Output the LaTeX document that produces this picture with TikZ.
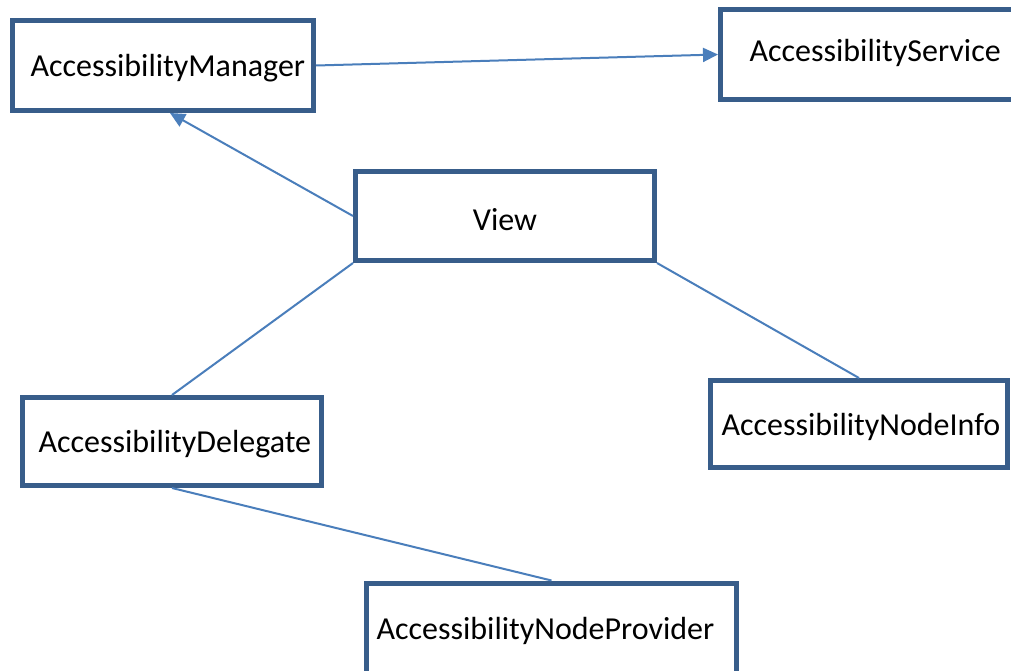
\documentclass[tikz,border=0pt]{standalone}
\usepackage{fontspec}
\setmainfont{Carlito}
\usetikzlibrary{arrows.meta,calc}
\definecolor{boxline}{HTML}{385D8A}
\definecolor{linkline}{HTML}{4A7EBB}
\begin{document}
\begin{tikzpicture}[x=1pt,y=-1pt,
  classbox/.style={draw=boxline, line width=5pt, fill=white, rectangle,
    inner ysep=0pt, align=left, text depth=0pt, font=\fontsize{32}{38}\selectfont},
  link/.style={draw=linkline, line width=2pt},
  linkarrow/.style={link, -{Triangle[length=15pt,width=14pt]}}]
\clip (0,0) rectangle (1011,671);
\fill[white] (0,0) rectangle (1011,671);

% class boxes (border centre lines)
\node[classbox, minimum height=90pt, inner xsep=18pt, text width=265pt] (man) at (163,65.5) {AccessibilityManager};
\node[classbox, minimum height=90pt, inner xsep=29pt, text width=251.5pt, text depth=8pt] (svc) at (875.25,54.5) {AccessibilityService};
\node[classbox, minimum height=89pt, inner xsep=10pt, text width=279pt, align=center, text height=28pt] (view) at (505,216) {View};
\node[classbox, minimum height=88pt, inner xsep=16pt, text width=267pt] (del) at (172,441.5) {AccessibilityDelegate};
\node[classbox, minimum height=87pt, inner xsep=11pt, text width=275pt] (info) at (859,424) {AccessibilityNodeInfo};
\node[classbox, minimum height=90pt, inner xsep=10pt, text width=350pt] (prov) at (551.5,628) {AccessibilityNodeProvider};

% connectors
\draw[linkarrow] (man.east) -- (svc.west);
\draw[linkarrow] (view.west) -- ([xshift=7pt]man.south);
\draw[link] (view.south west) -- (del.north);
\draw[link] (view.south east) -- (info.north);
\draw[link] (del.south) -- (prov.north);
\end{tikzpicture}
\end{document}
